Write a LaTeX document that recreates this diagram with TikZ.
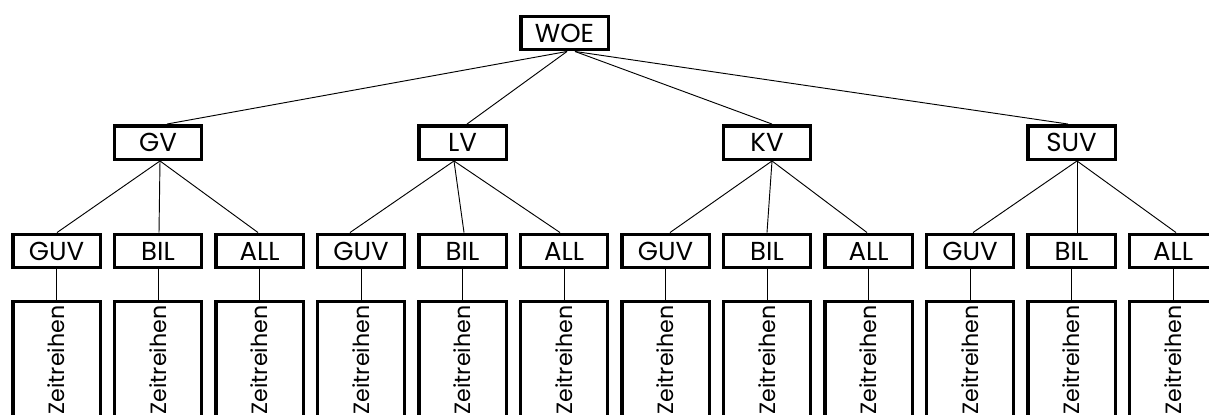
\documentclass[tikz,border=0pt]{standalone}
\usepackage{fontspec}
\setmainfont{Poppins}
\usetikzlibrary{calc}
\tikzset{
  box/.style={draw=black, line width=2.6pt, minimum width=65.6pt, minimum height=25.1pt, inner sep=0pt, font=\fontsize{19.5}{19.5}\selectfont},
  tsbox/.style={draw=black, line width=2.6pt, minimum width=65.6pt, minimum height=93pt, inner sep=0pt},
  tstext/.style={rotate=90, inner sep=0pt, font=\fontsize{16.6}{16.6}\selectfont},
  conn/.style={line width=0.7pt, draw=black}
}
\begin{document}
\begin{tikzpicture}[x=0.75pt,y=-0.75pt]
\useasboundingbox (0,0) rectangle (1209,414);
\clip (0,0) rectangle (1209,414);
\fill[white] (0,0) rectangle (1209,414);
% top
\node[box] (WOE) at (564.5,33) {WOE};
% second level
\node[box] (GV)  at (158,142.5)   {GV};
\node[box] (LV)  at (462.5,142.5) {LV};
\node[box] (KV)  at (767,142.5)   {KV};
\node[box] (SUV) at (1071.5,142.5) {SUV};
% third level and time series
\foreach \i/\lab in {1/GUV,2/BIL,3/ALL,4/GUV,5/BIL,6/ALL,7/GUV,8/BIL,9/ALL,10/GUV,11/BIL,12/ALL}{
  \pgfmathsetmacro{\cx}{56.5+101.5*(\i-1)}
  \node[box] (L\i) at (\cx,251) {\lab};
  \node[tsbox] (T\i) at (\cx,363.75) {};
  \node[tstext] (Z\i) at (\cx,360) {Zeitreihen};
  \draw[conn] (L\i.south) -- (T\i.north);
}
% WOE connectors
\draw[conn] ($(WOE.south)+(2.5,0)$) -- ($(GV.north)+(9,0)$);
\draw[conn] ($(WOE.south)+(2.5,0)$) -- ($(LV.north)+(4.5,0)$);
\draw[conn] ($(WOE.south)+(10.5,0)$) -- ($(KV.north)+(5,0)$);
\draw[conn] ($(WOE.south)+(10.5,0)$) -- ($(SUV.north)+(-3.5,0)$);
% GV
\draw[conn] ($(GV.south)+(2,0)$) -- ($(L1.north)+(0.5,0)$);
\draw[conn] ($(GV.south)+(2,0)$) -- ($(L2.north)+(1,0)$);
\draw[conn] ($(GV.south)+(2,0)$) -- ($(L3.north)+(-1.5,0)$);
% LV
\draw[conn] ($(LV.south)+(-8.5,0)$) -- ($(L4.north)+(-11,0)$);
\draw[conn] ($(LV.south)+(-8.5,0)$) -- ($(L5.north)+(1.5,0)$);
\draw[conn] ($(LV.south)+(-8.5,0)$) -- ($(L6.north)+(-4,0)$);
% KV
\draw[conn] ($(KV.south)+(5,0)$) -- ($(L7.north)+(4.5,0)$);
\draw[conn] ($(KV.south)+(5,0)$) -- (L8.north);
\draw[conn] ($(KV.south)+(5,0)$) -- ($(L9.north)+(-1.5,0)$);
% SUV
\draw[conn] ($(SUV.south)+(5.5,0)$) -- ($(L10.north)+(3,0)$);
\draw[conn] ($(SUV.south)+(5.5,0)$) -- ($(L11.north)+(5.5,0)$);
\draw[conn] ($(SUV.south)+(5.5,0)$) -- ($(L12.north)+(3,0)$);
\end{tikzpicture}
\end{document}
